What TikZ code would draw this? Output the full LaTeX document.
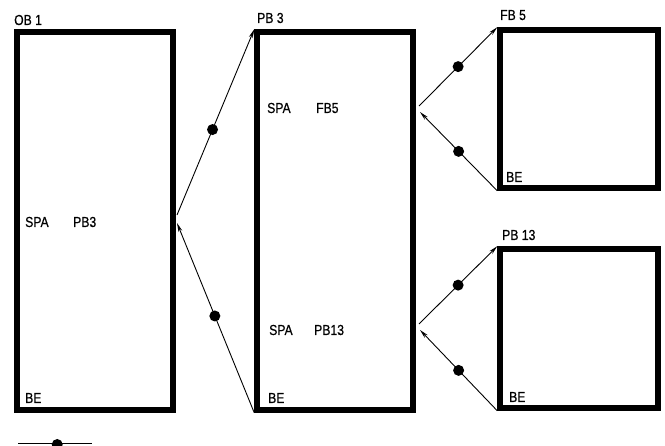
\documentclass[tikz,border=0pt]{standalone}
\usepackage{fontspec}
\setmainfont{Liberation Sans}[FakeStretch=0.84,FakeBold=0.6]
\usetikzlibrary{arrows.meta,positioning}
\tikzset{
  blockbox/.style={
    draw=black, line width=5.5pt, rectangle,
    inner sep=0pt
  },
  blocktext/.style={
    anchor=base west, inner sep=0pt, font=\fontsize{14.5}{16}\selectfont
  },
  callline/.style={draw=black, line width=0.9pt},
  callarrow/.style={callline, -{Stealth[length=9pt,width=4pt]}},
  calldot/.style={circle, fill=black, inner sep=0pt, minimum size=11pt}
}
\begin{document}
\begin{tikzpicture}[x=1pt,y=-1pt]
  \useasboundingbox (0,0) rectangle (665,446);
  \clip (0,0) rectangle (665,446);
  % blocks
  \node[blockbox,minimum width=156pt,minimum height=378pt] (ob1) at (95,221) {};
  \node[blockbox,minimum width=156pt,minimum height=378pt] (pb3) at (335,221) {};
  \node[blockbox,minimum width=158pt,minimum height=158pt] (fb5) at (579,109) {};
  \node[blockbox,minimum width=158pt,minimum height=159pt] (pb13) at (579,328.5) {};
  % block names
  \node[blocktext] (ob1name) at (14,25) {OB 1};
  \node[blocktext] (pb3name) at (257,23) {PB 3};
  \node[blocktext] (fb5name) at (500,20) {FB 5};
  \node[blocktext] (pb13name) at (502,240) {PB 13};
  % contents
  \node[blocktext] (ob1spa) at (25,227) {SPA};
  \node[blocktext] (ob1call) at (73,227) {PB3};
  \node[blocktext] (ob1be) at (25,403) {BE};
  \node[blocktext] (pb3spa) at (267,113) {SPA};
  \node[blocktext] (pb3call) at (316,113) {FB5};
  \node[blocktext] (pb3spb) at (269,335) {SPA};
  \node[blocktext] (pb3callb) at (314,335) {PB13};
  \node[blocktext] (pb3be) at (268,403) {BE};
  \node[blocktext] (fb5be) at (506,182) {BE};
  \node[blocktext] (pb13be) at (509,402) {BE};
  % jump points
  \coordinate (ob1out) at (177,215);
  \coordinate (ob1in) at (177,223);
  \coordinate (pb3out) at (419,106);
  \coordinate (pb3in) at (420,112);
  \coordinate (pb3outb) at (419,324);
  \coordinate (pb3inb) at (420,330);
  % calls and returns
  \draw[callarrow] (ob1out) -- (pb3.north west) node[calldot,pos=0.46] {};
  \draw[callarrow] (pb3.south west) -- (ob1in) node[calldot,pos=0.51] {};
  \draw[callarrow] (pb3out) -- (fb5.north west) node[calldot,pos=0.5] {};
  \draw[callarrow] (fb5.south west) -- (pb3in) node[calldot,pos=0.5] {};
  \draw[callarrow] (pb3outb) -- (pb13.north west) node[calldot,pos=0.5] {};
  \draw[callarrow] (pb13.south west) -- (pb3inb) node[calldot,pos=0.5] {};
  % legend stub
  \coordinate (lgA) at (18,443.5);
  \coordinate (lgB) at (92,443.5);
  \draw[callline] (lgA) -- (lgB) node[calldot,pos=0.53,yshift=-1pt] {};
\end{tikzpicture}
\end{document}
